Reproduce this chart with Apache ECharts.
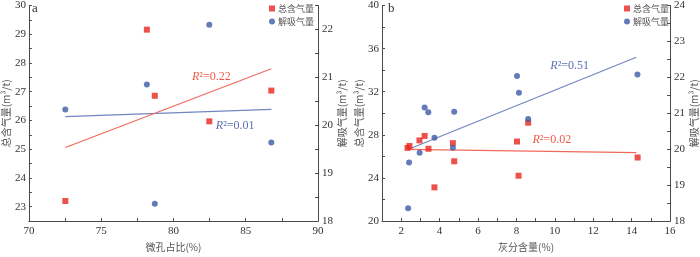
<!DOCTYPE html>
<html>
<head>
<meta charset="utf-8">
<script src="https://cdn.jsdelivr.net/npm/echarts@6/dist/echarts.min.js"></script>
<style>
html,body{margin:0;padding:0;background:#fff;}
#chart{width:700px;height:257px;}
</style>
</head>
<body>
<div id="chart"></div>
<script>
// ---- Panel a data ----
const microporeRatio = [72.52, 78.16, 78.71, 82.48, 86.77];
const totalGasA = [23.20, 29.16, 26.86, 25.97, 27.04];
const desorbedGasA = [20.33, 20.85, 18.36, 22.10, 19.64];
const fitXA = [72.52, 86.77];
const fitTotalA = [25.06, 27.80];
const fitDesorbedA = [20.18, 20.33];

// ---- Panel b data ----
const ashTotal = [2.33, 2.43, 2.95, 3.22, 3.42, 3.73, 4.69, 4.76, 8.03, 8.11, 8.61, 14.31];
const totalGasB = [26.79, 26.97, 27.49, 27.90, 26.71, 23.13, 27.23, 25.55, 27.38, 24.21, 29.13, 25.90];
const ashDesorbed = [2.36, 2.41, 2.96, 3.22, 3.41, 3.73, 4.69, 4.76, 8.03, 8.13, 8.61, 14.30];
const desorbedGasB = [18.36, 19.63, 19.90, 21.16, 21.03, 20.32, 20.04, 21.04, 22.04, 21.57, 20.84, 22.08];
const fitXTotalB = [2.35, 14.24];
const fitTotalB = [26.65, 26.35];
const fitXDesorbedB = [2.38, 14.24];
const fitDesorbedB = [20.00, 22.56];

const seriesNames = ['总含气量', '解吸气量'];
const r2Labels = ['0.22', '0.01', '0.51', '0.02'];

const zip = (xs, ys) => xs.map((x, i) => [x, ys[i]]);

const RED = '#e8251f', BLUE = '#3c5ba6';
const RED_LINE = '#f2695c', BLUE_LINE = '#7186c2';
const SERIF = '"Liberation Serif", "Times New Roman", "Noto Sans CJK SC", serif';
const CJK = '"Noto Sans CJK SC", sans-serif';

const isMult = (v, m) => Math.abs(v / m - Math.round(v / m)) < 1e-6;

function baseAxis(extra) {
  return Object.assign({
    type: 'value',
    axisLine: { show: true, onZero: false, lineStyle: { color: '#4a4a4a', width: 1 } },
    axisTick: { show: true, inside: true, length: 3, lineStyle: { color: '#4a4a4a' } },
    splitLine: { show: false },
    nameLocation: 'middle',
    nameTextStyle: { fontFamily: CJK, fontSize: 10, color: '#555' },
  }, extra);
}

function xAx(gridIndex, min, max, interval, labelMult) {
  return baseAxis({
    gridIndex, min, max, interval,
    name: gridIndex === 0 ? '微孔占比(%)' : '灰分含量(%)',
    nameGap: 16,
    axisLabel: {
      margin: 5, fontFamily: SERIF, fontSize: 11, color: '#333',
      showMinLabel: true, showMaxLabel: true,
      formatter: v => isMult(v, labelMult) ? String(v) : ''
    }
  });
}

function yAx(gridIndex, position, min, max, interval, labelMult, name, nameGap) {
  return baseAxis({
    gridIndex, position, min, max, interval, name, nameGap,
    nameRotate: 90,
    axisLabel: {
      margin: position === 'left' ? 3 : 4, fontFamily: SERIF, fontSize: 11, color: '#333',
      showMinLabel: true, showMaxLabel: true,
      formatter: v => isMult(v, labelMult) ? String(Math.round(v)) : ''
    }
  });
}

function r2Point(coord, text, color) {
  return {
    symbol: 'circle',
    symbolSize: 1,
    silent: true,
    itemStyle: { color: 'rgba(0,0,0,0)' },
    label: {
      show: true, position: 'inside',
      formatter: '{i|R}{n|²=' + text + '}',
      rich: {
        i: { fontFamily: SERIF, fontStyle: 'italic', fontSize: 12, color: color },
        n: { fontFamily: SERIF, fontSize: 12, color: color }
      }
    },
    data: [{ coord: coord }]
  };
}

function scatter(name, xi, yi, data, color, symbol) {
  return {
    type: 'scatter', name, xAxisIndex: xi, yAxisIndex: yi, data,
    symbol, symbolSize: 6, itemStyle: { color }, z: 5
  };
}

function fitLine(name, xi, yi, data, color, mark) {
  return {
    type: 'line', name: name + '拟合', xAxisIndex: xi, yAxisIndex: yi, data,
    symbol: 'none', lineStyle: { color, width: 1.2 }, z: 3,
    markPoint: mark
  };
}

function legend(left) {
  return {
    left, top: 4, orient: 'vertical', padding: 0,
    itemWidth: 6, itemHeight: 6, itemGap: 4,
    data: [{ name: seriesNames[0], icon: 'rect' }, { name: seriesNames[1], icon: 'circle' }],
    textStyle: { fontFamily: CJK, fontSize: 9, color: '#555', padding: [0, 0, 0, -2] },
    selectedMode: false
  };
}

const chart = echarts.init(document.getElementById('chart'), null, { renderer: 'canvas' });
chart.setOption({
  animation: false,
  backgroundColor: '#fff',
  grid: [
    { left: 28, top: 1, width: 290, height: 229, containLabel: false },
    { left: 382, top: 1, width: 290, height: 229, containLabel: false }
  ],
  xAxis: [
    xAx(0, 70, 90, 2.5, 5),
    xAx(1, 1, 16, 1, 2)
  ],
  yAxis: [
    yAx(0, 'left', 22.5, 30, 0.5, 1, '总含气量(m³/t)', 14),
    yAx(0, 'right', 18, 22.5, 0.5, 1, '解吸气量(m³/t)', 18),
    yAx(1, 'left', 20, 40, 2, 4, '总含气量(m³/t)', 14),
    yAx(1, 'right', 18, 24, 0.5, 1, '解吸气量(m³/t)', 16)
  ],
  legend: [legend(269), legend(624)],
  series: [
    fitLine('a1', 0, 1, zip(fitXA, fitDesorbedA), BLUE_LINE, r2Point([84.27, 19.98], r2Labels[1], '#5a6fb3')),
    fitLine('a0', 0, 0, zip(fitXA, fitTotalA), RED_LINE, r2Point([82.62, 27.53], r2Labels[0], '#ef5a48')),
    scatter(seriesNames[0], 0, 0, zip(microporeRatio, totalGasA), RED, 'rect'),
    scatter(seriesNames[1], 0, 1, zip(microporeRatio, desorbedGasA), BLUE, 'circle'),
    fitLine('b1', 1, 3, zip(fitXDesorbedB, fitDesorbedB), BLUE_LINE, r2Point([10.77, 22.33], r2Labels[2], '#5a6fb3')),
    fitLine('b0', 1, 2, zip(fitXTotalB, fitTotalB), RED_LINE, r2Point([9.84, 27.53], r2Labels[3], '#ef5a48')),
    scatter(seriesNames[0], 1, 2, zip(ashTotal, totalGasB), RED, 'rect'),
    scatter(seriesNames[1], 1, 3, zip(ashDesorbed, desorbedGasB), BLUE, 'circle')
  ],
  graphic: [
    { type: 'text', left: 32, top: 2, style: { text: 'a', font: '13px "Liberation Serif", serif', fill: '#333' } },
    { type: 'text', left: 388, top: 2, style: { text: 'b', font: '13px "Liberation Serif", serif', fill: '#333' } }
  ]
});
</script>
</body>
</html>
